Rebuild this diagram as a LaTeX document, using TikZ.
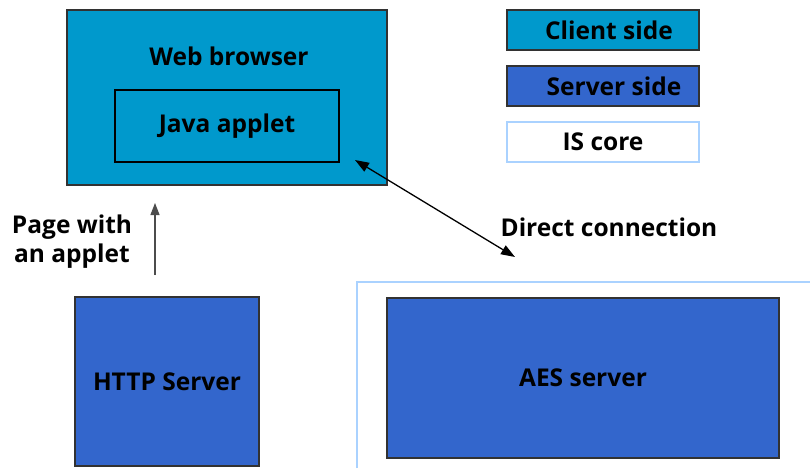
\documentclass[tikz,border=0pt]{standalone}
\usepackage{fontspec}
\setmainfont{Open Sans}
\usetikzlibrary{arrows.meta}
\definecolor{client}{RGB}{0,153,204}
\definecolor{server}{RGB}{51,102,204}
\definecolor{iscore}{RGB}{170,210,255}
\definecolor{frame}{RGB}{50,50,50}
\newcommand{\dn}[1]{\raisebox{-2.5pt}{#1}}
\begin{document}
\begin{tikzpicture}[x=1pt,y=-1pt,
  every node/.style={font=\fontsize{24.5}{29}\selectfont\bfseries},
  clientbox/.style={draw=frame,line width=1.2pt,fill=client},
  serverbox/.style={draw=frame,line width=1.2pt,fill=server},
  lbl/.style={inner sep=0pt}]
\useasboundingbox[fill=white] (0,0) rectangle (810,468);
% Web browser
\node[clientbox,minimum width=320,minimum height=175,inner sep=0pt] (wb) at (227,97.5) {};
\node[lbl] (wbt) at (229,56) {Web browser};
\node[draw=black,line width=1.2pt,fill=client,minimum width=224,minimum height=72,inner sep=0pt] (ja) at (227,126) {\dn{Java applet}};
% Legend
\node[clientbox,minimum width=192,minimum height=40,inner sep=0pt] (lc) at (603,30) {\dn{\hspace*{12pt}Client side}};
\node[serverbox,minimum width=192,minimum height=40,inner sep=0pt] (ls) at (603,86) {\dn{\hspace*{22pt}Server side}};
\node[draw=iscore,line width=1.2pt,fill=white,minimum width=192,minimum height=40,inner sep=0pt] (li) at (603,142) {\dn{IS core}};
% HTTP server
\node[serverbox,minimum width=184,minimum height=169,inner sep=0pt] (http) at (167,381.5) {\dn{HTTP Server}};
\coordinate (upstart) at (155,275);
\coordinate (upend) at (155,203);
\draw[-{Triangle[length=12pt,width=9pt]},line width=1.2pt,draw=black!70,fill=black] (upstart) -- (upend);
\node[lbl,align=center] (pwa) at (72,242) {Page with\\an applet};
% IS core frame
\coordinate (isA) at (357,468);
\coordinate (isB) at (357,282);
\coordinate (isC) at (810,282);
\draw[iscore,line width=1.5pt] (isA) -- (isB) -- (isC);
% AES server
\node[serverbox,minimum width=392,minimum height=160,inner sep=0pt] (aes) at (583,378) {\dn{AES server}};
% direct connection
\coordinate (dcA) at (355,160);
\coordinate (dcB) at (515,257);
\draw[{Triangle[length=14pt,width=10pt]}-{Triangle[length=14pt,width=10pt]},line width=1.3pt] (dcA) -- (dcB);
\node[lbl] (dc) at (609,227) {Direct connection};
\end{tikzpicture}
\end{document}
